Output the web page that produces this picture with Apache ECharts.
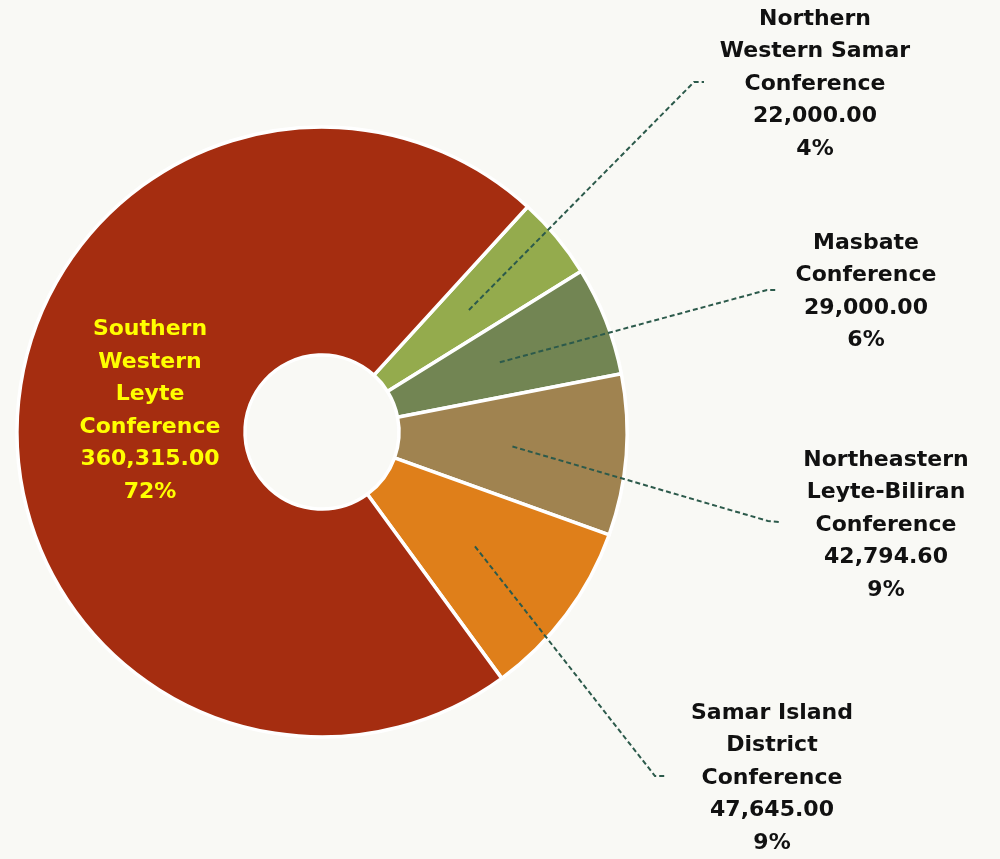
<!DOCTYPE html>
<html>
<head>
<meta charset="utf-8">
<script src="https://cdn.jsdelivr.net/npm/echarts@6/dist/echarts.min.js"></script>
<style>
html,body{margin:0;padding:0;background:#f9f9f5;}
#chart{width:1000px;height:859px;}
</style>
</head>
<body>
<div id="chart"></div>
<script>
// ---- data ----
const categories = [
  'Northern\nWestern Samar\nConference',
  'Masbate\nConference',
  'Northeastern\nLeyte-Biliran\nConference',
  'Samar Island\nDistrict\nConference',
  'Southern\nWestern\nLeyte\nConference'
];
const values = [22000.00, 29000.00, 42794.60, 47645.00, 360315.00];

// ---- styles / layout ----
const colors = ['#94ab4d', '#728553', '#a08350', '#df7f1a', '#a52d10'];
const CX = 322, CY = 432, R0 = 77, R1 = 305, START = 47.6;
// label block centres and leader-line bend/end points
const labelPos = [
  {x: 815, y: 84, bend: [694, 82], end: [704, 82]},
  {x: 866, y: 292, bend: [767, 290], end: [777, 290]},
  {x: 886, y: 525, bend: [768, 521], end: [779, 522]},
  {x: 772, y: 778, bend: [655, 776], end: [667, 776]},
  {x: 150, y: 411, bend: null, end: null}
];

const total = values.reduce((a, b) => a + b, 0);
const cum = [];
values.reduce((acc, v, i) => { cum[i] = acc; return acc + v; }, 0);

const fmt = v => v.toLocaleString('en-US', {minimumFractionDigits: 2, maximumFractionDigits: 2});

const common = {
  type: 'pie',
  center: [CX, CY],
  radius: [R0, R1],
  startAngle: START,
  clockwise: true,
  avoidLabelOverlap: false
};

const chart = echarts.init(document.getElementById('chart'));
chart.setOption({
  backgroundColor: '#f9f9f5',
  animation: false,
  series: [
    Object.assign({}, common, {
      z: 2,
      label: {show: false},
      labelLine: {show: false},
      itemStyle: {borderColor: '#ffffff', borderWidth: 3.5},
      data: values.map((v, i) => ({name: categories[i], value: v, itemStyle: {color: colors[i]}}))
    }),
    Object.assign({}, common, {
      z: 5,
      silent: true,
      itemStyle: {color: 'rgba(0,0,0,0)', borderWidth: 0},
      label: {
        show: true,
        position: 'outside',
        opacity: 1,
        fontFamily: 'DejaVu Sans',
        fontWeight: 'bold',
        fontSize: 22,
        lineHeight: 32.5,
        color: '#111111',
        align: 'center',
        formatter: p => p.name + '\n' + fmt(values[p.dataIndex]) + '\n' +
          Math.round(values[p.dataIndex] / total * 100) + '%'
      },
      labelLine: {
        show: true,
        lineStyle: {color: '#2c5a4b', width: 2, opacity: 1, type: [5, 3]}
      },
      labelLayout: function (params) {
        const i = params.dataIndex;
        const lp = labelPos[i];
        const out = {x: lp.x, y: lp.y, align: 'center', verticalAlign: 'middle'};
        if (lp.bend) {
          const mid = (START - (cum[i] + values[i] / 2) / total * 360) * Math.PI / 180;
          const rm = (R0 + R1) / 2;
          const sx = CX + rm * Math.cos(mid), sy = CY - rm * Math.sin(mid);
          out.labelLinePoints = [[sx, sy], lp.bend, lp.end];
        }
        return out;
      },
      data: values.map((v, i) => {
        const d = {name: categories[i], value: v};
        if (i === 4) {
          d.label = {color: '#ffff00'};
          d.labelLine = {show: false};
        }
        return d;
      })
    })
  ]
});
</script>
</body>
</html>
